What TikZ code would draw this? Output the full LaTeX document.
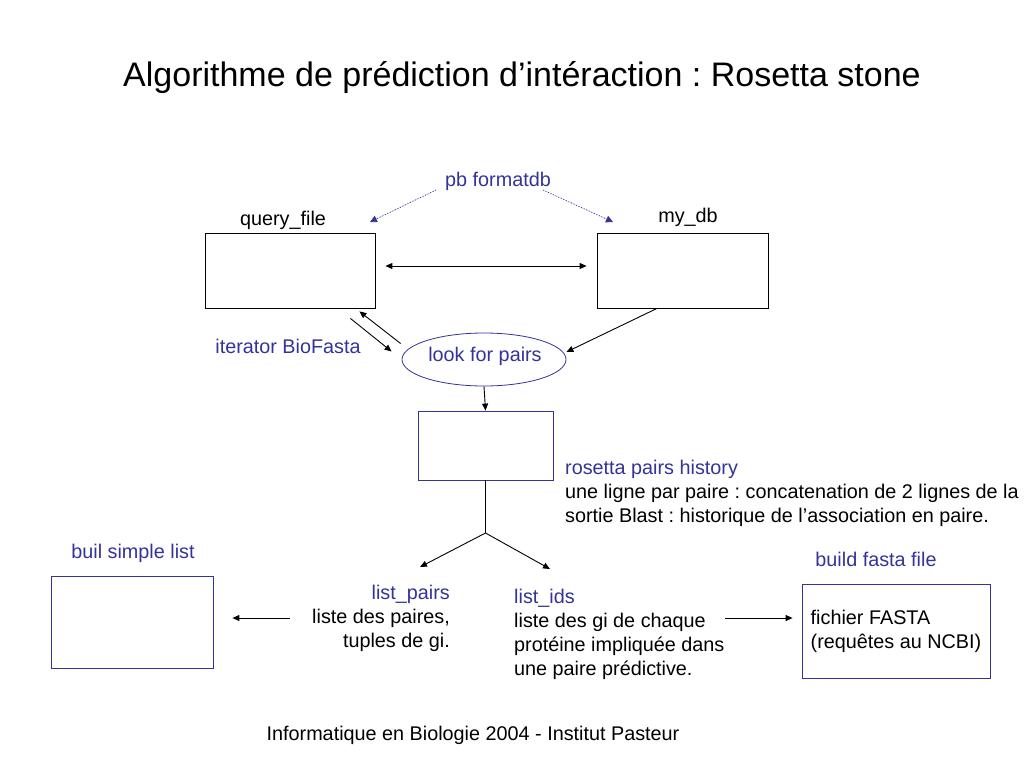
\documentclass[tikz,border=0pt]{standalone}
\usepackage{fontspec}
\setmainfont{Liberation Sans}
\usetikzlibrary{arrows.meta,shapes.geometric}
\definecolor{pblue}{RGB}{51,51,153}
\frenchspacing
\begin{document}
\frenchspacing
\begin{tikzpicture}[x=1pt,y=-1pt,
  txt/.style={font=\fontsize{19.8}{24}\selectfont, inner sep=0pt},
  btxt/.style={txt, text=pblue},
  kbox/.style={draw=black, line width=0.8pt, inner sep=0pt},
  ubox/.style={draw=pblue, line width=0.8pt, inner sep=0pt},
  arr/.style={-{Triangle[length=7pt,width=6pt]}, line width=0.9pt},
  darr/.style={{Triangle[length=7pt,width=6pt]}-{Triangle[length=7pt,width=6pt]}, line width=0.9pt},
  dotarr/.style={-{Triangle[length=7pt,width=7pt]}, draw=pblue, fill=pblue, dotted, line width=0.8pt}
]
\useasboundingbox (0,0) rectangle (1024,768);

% title
\node[inner sep=0pt, font=\fontsize{34}{40}\selectfont] (title) at (522,78) {Algorithme de prédiction d’intéraction : Rosetta stone};

% top boxes
\node[kbox, minimum width=170pt, minimum height=75pt] (q) at (290,270.5) {};
\node[kbox, minimum width=171pt, minimum height=75pt] (m) at (682.5,270.5) {};
\node[txt, anchor=base] (qlab) at (283,225.5) {query\_file};
\node[txt, anchor=base] (mlab) at (688,222.5) {my\_db};
\node[btxt, anchor=base] (pb) at (498,186.5) {pb formatdb};

% ellipse
\node[ellipse, draw=pblue, line width=0.8pt, minimum width=164pt, minimum height=53pt, inner sep=0pt] (e) at (484,359.5) {};
\node[btxt, anchor=base] (elab) at (485,361.5) {look for pairs};
\node[btxt, anchor=base] (it) at (288,353.5) {iterator BioFasta};

% rosetta box
\node[ubox, minimum width=135pt, minimum height=69pt] (r) at (485.5,445.5) {};
\node[txt, anchor=north west, align=left] (rtxt) at (565,459.5)
  {\textcolor{pblue}{rosetta pairs history}\\une ligne par paire : concatenation de 2 lignes de la\\sortie Blast : historique de l’association en paire.};

% bottom left
\node[btxt, anchor=base] (bsl) at (133,558.5) {buil simple list};
\node[ubox, minimum width=162pt, minimum height=92pt] (sl) at (132,622) {};
\node[txt, anchor=north east, align=right] (lp) at (450,584.5)
  {\textcolor{pblue}{list\_pairs}\\liste des paires,\\tuples de gi.};

% bottom right
\node[txt, anchor=north west, align=left] (li) at (514,588.5)
  {\textcolor{pblue}{list\_ids}\\liste des gi de chaque\\protéine impliquée dans\\une paire prédictive.};
\node[btxt, anchor=base] (bff) at (876,566.5) {build fasta file};
\node[ubox, txt, minimum width=188pt, minimum height=94pt, align=left] (fa) at (896,631)
  {fichier FASTA\\(requêtes au NCBI)};

% footer
\node[txt, anchor=base] (foot) at (473,740.5) {Informatique en Biologie 2004 - Institut Pasteur};

% connectors
\coordinate (pbl) at (436,190);
\coordinate (pbr) at (543,190);
\coordinate (qt) at (370,222);
\coordinate (mt) at (613,222);
\draw[dotarr] (pbl) -- (qt);
\draw[dotarr] (pbr) -- (mt);
\draw[darr] ([xshift=10pt,yshift=4.5pt]q.east) -- ([xshift=-10pt,yshift=4.5pt]m.west);
\draw[arr] ([xshift=-1pt,yshift=16pt]e.west) -- ([xshift=-16pt,yshift=-3pt]q.south east);
\draw[arr] ([xshift=-25pt,yshift=-10pt]q.south east) -- ([xshift=-10pt,yshift=8pt]e.west);
\draw[arr] ([xshift=-25.5pt]m.south) -- ([yshift=7.5pt]e.east);
\draw[arr] (e.south) -- (r.north);
\coordinate (sp) at (485.5,533);
\coordinate (lpt) at (420,567);
\coordinate (lit) at (550,569);
\coordinate (lpa) at (290,618);
\coordinate (lia) at (725,618);
\draw[line width=0.9pt] (r.south) -- (sp);
\draw[arr] (sp) -- (lpt);
\draw[arr] (sp) -- (lit);
\draw[arr] (lpa) -- ([xshift=19pt]sl.east |- lpa);
\draw[arr] (lia) -- ([xshift=-9pt]fa.west |- lia);
\end{tikzpicture}
\end{document}
